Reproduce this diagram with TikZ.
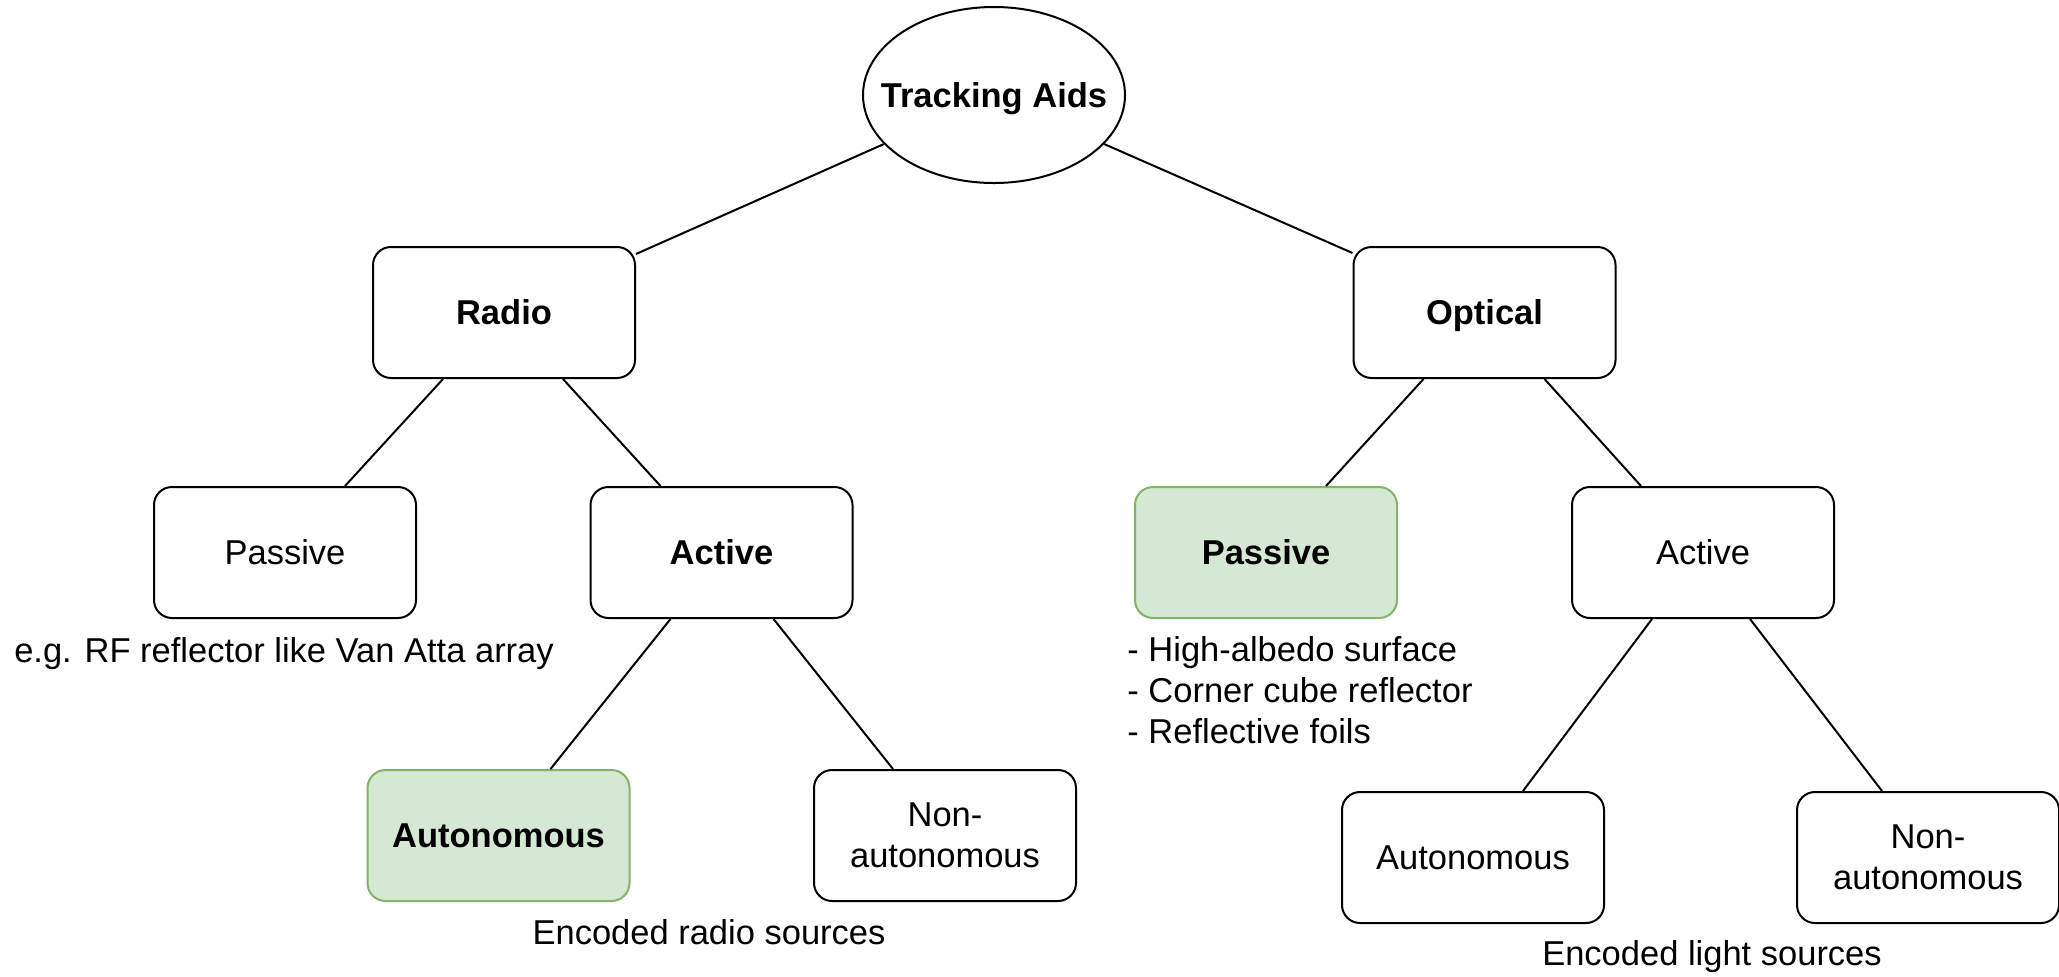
\documentclass[tikz,border=0pt]{standalone}
\usepackage{fontspec}
\setmainfont{Liberation Sans}
\usetikzlibrary{shapes.geometric,calc}
\definecolor{greenfill}{HTML}{D5E8D4}
\definecolor{greenline}{HTML}{82B366}
\newcommand{\dfont}{\fontsize{17.25}{20.5}\selectfont}
\begin{document}
\begin{tikzpicture}[x=0.5pt,y=-0.5pt,
  every node/.style={font=\dfont},
  box/.style={draw=black,line width=1pt,rounded corners=9pt,fill=white,
    minimum width=131pt,minimum height=65.5pt,inner sep=0pt},
  onel/.style={text height=12.35pt,text depth=0pt},
  bold/.style={font=\dfont\bfseries},
  hl/.style={fill=greenfill,draw=greenline},
  conn/.style={draw=black,line width=1pt},
  lbl/.style={inner sep=0pt}
]
\useasboundingbox (0,0) rectangle (2059,976);

\node[ellipse,draw=black,line width=1pt,minimum width=131pt,minimum height=88pt,inner xsep=-15pt,inner ysep=0pt,onel,bold] (root) at (994,95) {Tracking Aids};

\node[box,onel,bold] (radio) at (504,312.5) {Radio};
\node[box,onel,bold] (optical) at (1484.5,312.5) {Optical};

\node[box,onel] (pasR) at (285,552.5) {Passive};
\node[box,onel,bold] (actR) at (721.5,552.5) {Active};
\node[box,hl,onel,bold] (pasO) at (1266,552.5) {Passive};
\node[box,onel] (actO) at (1703,552.5) {Active};

\node[box,hl,onel,bold] (autR) at (498.5,835.5) {Autonomous};
\node[box,align=center] (nonR) at (945,835.5) {Non-\\autonomous};
\node[box,onel] (autO) at (1473,857.5) {Autonomous};
\node[box,align=center] (nonO) at (1928,857.5) {Non-\\autonomous};

\draw[conn] (root.204) -- ($(radio.north east)+(0,8)$);
\draw[conn] (root.-24) -- ($(optical.north west)+(0,7)$);
\draw[conn] ($(radio.south)+(-61,0)$) -- ($(pasR.north)+(60,0)$);
\draw[conn] ($(radio.south)+(59,0)$) -- ($(actR.north)+(-61,0)$);
\draw[conn] ($(optical.south)+(-61,0)$) -- ($(pasO.north)+(60,0)$);
\draw[conn] ($(optical.south)+(60,0)$) -- ($(actO.north)+(-62,0)$);
\draw[conn] ($(actR.south)+(-51,0)$) -- ($(autR.north)+(52,0)$);
\draw[conn] ($(actR.south)+(52,0)$) -- ($(nonR.north)+(-52,0)$);
\draw[conn] ($(actO.south)+(-51,0)$) -- ($(autO.north)+(50,0)$);
\draw[conn] ($(actO.south)+(47,0)$) -- ($(nonO.north)+(-46,0)$);

\node[lbl,anchor=base] (lblRF) at (284,662) {e.g. RF reflector like Van Atta array};
\node[lbl,anchor=north west,align=left] (lblList) at (1127,636) {- High-albedo surface\\- Corner cube reflector\\- Reflective foils};
\node[lbl,anchor=base] (lblRadio) at (709,944) {Encoded radio sources};
\node[lbl,anchor=base] (lblLight) at (1712,965) {Encoded light sources};
\end{tikzpicture}
\end{document}
